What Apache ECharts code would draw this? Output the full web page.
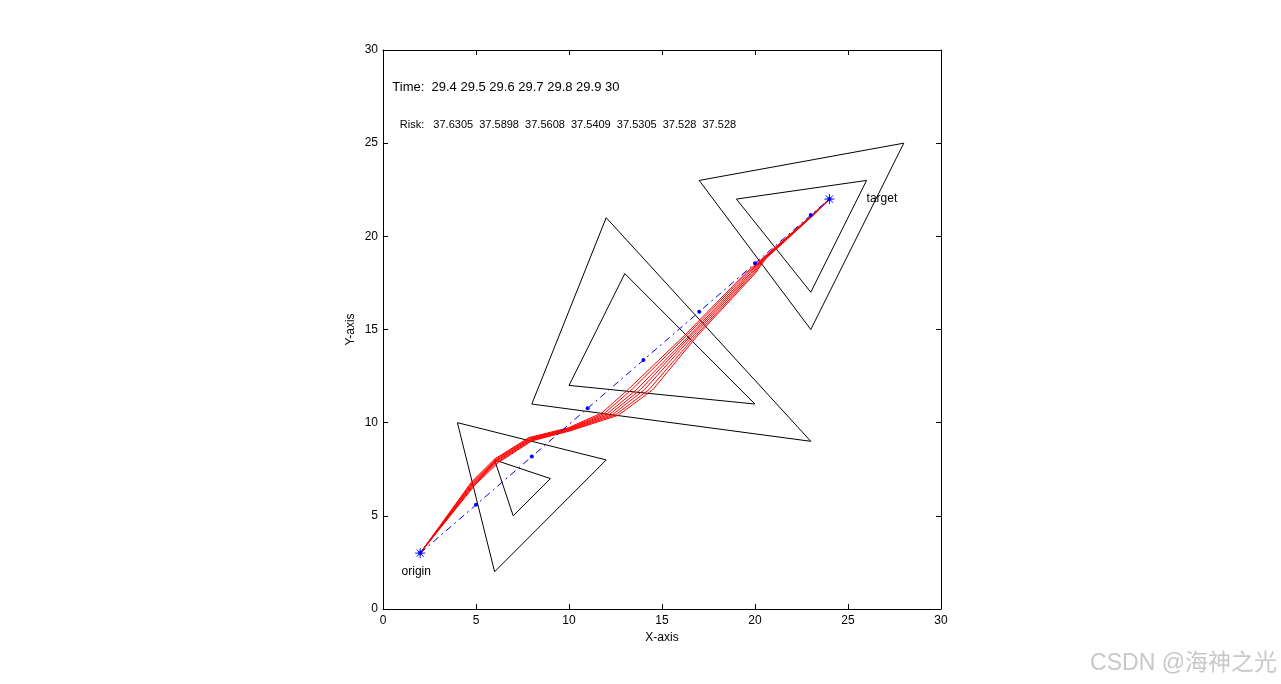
<!DOCTYPE html>
<html>
<head>
<meta charset="utf-8">
<title>path planning</title>
<script src="https://cdn.jsdelivr.net/npm/echarts@6/dist/echarts.min.js"></script>
<style>
  html, body { margin: 0; padding: 0; background: #fff; }
  #main { width: 1281px; height: 684px; }
</style>
</head>
<body>
<div id="main"></div>
<script>
  // obstacles (outer / inner triangles)
  const tri1Outer = [[4, 10], [12, 8], [6, 2]];
  const tri1Inner = [[6, 8], [9, 7], [7, 5]];
  const tri2Outer = [[12, 21], [23, 9], [8, 11]];
  const tri2Inner = [[13, 18], [20, 11], [10, 12]];
  const tri3Outer = [[17, 23], [28, 25], [23, 15]];
  const tri3Inner = [[19, 22], [26, 23], [23, 17]];

  // straight reference line origin -> target
  const lineX = [2, 5, 8, 11, 14, 17, 20, 23, 24];
  const lineY = [3, 5.59, 8.18, 10.77, 13.36, 15.95, 18.55, 21.14, 22];

  const origin = [2, 3];
  const target = [24, 22];

  // planned paths, one per time step
  const path1 = [[2, 3], [4.77, 6.83], [6.0, 8.05], [7.85, 9.2], [9.95, 9.72], [11.76, 10.52], [13.2, 11.8], [16.24, 14.71], [19.46, 18.0], [20.45, 18.85], [23.05, 21.12], [24, 22]];
  const path2 = [[2, 3], [4.8, 6.8], [6.03, 8.02], [7.88, 9.17], [9.98, 9.69], [11.9, 10.5], [13.4, 11.8], [16.36, 14.71], [19.55, 18.0], [20.47, 18.84], [23.05, 21.12], [24, 22]];
  const path3 = [[2, 3], [4.83, 6.77], [6.07, 7.99], [7.9, 9.14], [10.0, 9.67], [12.05, 10.48], [13.65, 11.79], [16.5, 14.71], [19.65, 18.0], [20.48, 18.83], [23.06, 21.11], [24, 22]];
  const path4 = [[2, 3], [4.86, 6.75], [6.1, 7.96], [7.93, 9.11], [10.03, 9.65], [12.2, 10.46], [13.85, 11.78], [16.6, 14.71], [19.75, 18.0], [20.5, 18.82], [23.07, 21.11], [24, 22]];
  const path5 = [[2, 3], [4.89, 6.72], [6.13, 7.93], [7.95, 9.08], [10.05, 9.63], [12.35, 10.44], [14.05, 11.77], [16.72, 14.71], [19.83, 18.0], [20.52, 18.8], [23.08, 21.1], [24, 22]];
  const path6 = [[2, 3], [4.92, 6.69], [6.17, 7.89], [7.98, 9.05], [10.08, 9.6], [12.5, 10.42], [14.3, 11.77], [16.84, 14.71], [19.92, 18.0], [20.54, 18.79], [23.09, 21.1], [24, 22]];
  const path7 = [[2, 3], [4.95, 6.66], [6.2, 7.86], [8.0, 9.02], [10.1, 9.57], [12.65, 10.4], [14.5, 11.76], [16.94, 14.71], [20.0, 18.0], [20.56, 18.78], [23.1, 21.1], [24, 22]];
  const paths = [path1, path2, path3, path4, path5, path6, path7];

  const timeText = 'Time:  29.4 29.5 29.6 29.7 29.8 29.9 30';
  const riskText = 'Risk:   37.6305  37.5898  37.5608  37.5409  37.5305  37.528  37.528';

  const closeTri = function (t) { return t.concat([t[0]]); };
  const blackTri = function (t) {
    return {
      type: 'line', data: closeTri(t), symbol: 'none', silent: true, z: 2,
      lineStyle: { color: '#000', width: 1 }
    };
  };
  const label = function (pos, text, size) {
    return {
      type: 'scatter', data: [pos], symbolSize: 0, silent: true, z: 5,
      itemStyle: { opacity: 1 },
      label: {
        show: true, position: 'right', distance: 0, formatter: text,
        color: '#000', fontSize: size, fontFamily: 'Liberation Sans, Arial'
      }
    };
  };
  const star = 'path://M0,-5L0,5M-5,0L5,0M-3.6,-3.6L3.6,3.6M-3.6,3.6L3.6,-3.6';

  const axisCommon = {
    type: 'value', min: 0, max: 30, interval: 5,
    splitLine: { show: false },
    axisLine: { show: true, onZero: false, lineStyle: { color: '#000', width: 1 } },
    axisTick: { show: true, inside: true, length: 5, lineStyle: { color: '#000' } }
  };
  const tickLabel = { color: '#000', fontSize: 12, fontFamily: 'Liberation Sans, Arial' };

  const series = [
    blackTri(tri1Outer), blackTri(tri1Inner),
    blackTri(tri2Outer), blackTri(tri2Inner),
    blackTri(tri3Outer), blackTri(tri3Inner)
  ];
  paths.forEach(function (p) {
    series.push({
      type: 'line', data: p, symbol: 'none', silent: true, z: 3,
      lineStyle: { color: '#ff0000', width: 1 }
    });
  });
  series.push({
    type: 'line', data: lineX.map(function (x, i) { return [x, lineY[i]]; }),
    symbol: 'circle', symbolSize: 4, showSymbol: true, silent: true, z: 4,
    itemStyle: { color: '#0000ff' },
    lineStyle: { color: '#0000ff', width: 1, type: [7, 4, 2, 4] }
  });
  series.push({
    type: 'scatter', data: [origin, target], symbol: star, symbolSize: 10, silent: true, z: 6,
    itemStyle: { color: 'transparent', borderColor: '#0000ff', borderWidth: 1, opacity: 1 }
  });
  series.push(label([0.5, 28], timeText, 13));
  series.push(label([0.9, 26], riskText, 11));
  series.push(label([1, 2], 'origin', 12));
  series.push(label([26, 22], 'target', 12));

  const option = {
    animation: false,
    backgroundColor: '#fff',
    grid: { left: 383, top: 50, width: 558, height: 559 },
    xAxis: [
      Object.assign({}, axisCommon, {
        position: 'bottom',
        name: 'X-axis', nameLocation: 'middle', nameGap: 22,
        nameTextStyle: tickLabel,
        axisLabel: Object.assign({ margin: 6 }, tickLabel)
      }),
      Object.assign({}, axisCommon, { position: 'top', axisLabel: { show: false } })
    ],
    yAxis: [
      Object.assign({}, axisCommon, {
        position: 'left',
        name: 'Y-axis', nameLocation: 'middle', nameGap: 26,
        nameTextStyle: tickLabel,
        axisLabel: Object.assign({ margin: 5 }, tickLabel)
      }),
      Object.assign({}, axisCommon, { position: 'right', axisLabel: { show: false } })
    ],
    graphic: [{
      type: 'text', right: 4, bottom: 9,
      style: {
        text: 'CSDN @海神之光', fill: '#c8c8c8', fontSize: 23,
        fontFamily: 'Liberation Sans, Noto Sans CJK SC'
      }
    }],
    series: series
  };

  const chart = echarts.init(document.getElementById('main'));
  chart.setOption(option);
</script>
</body>
</html>
